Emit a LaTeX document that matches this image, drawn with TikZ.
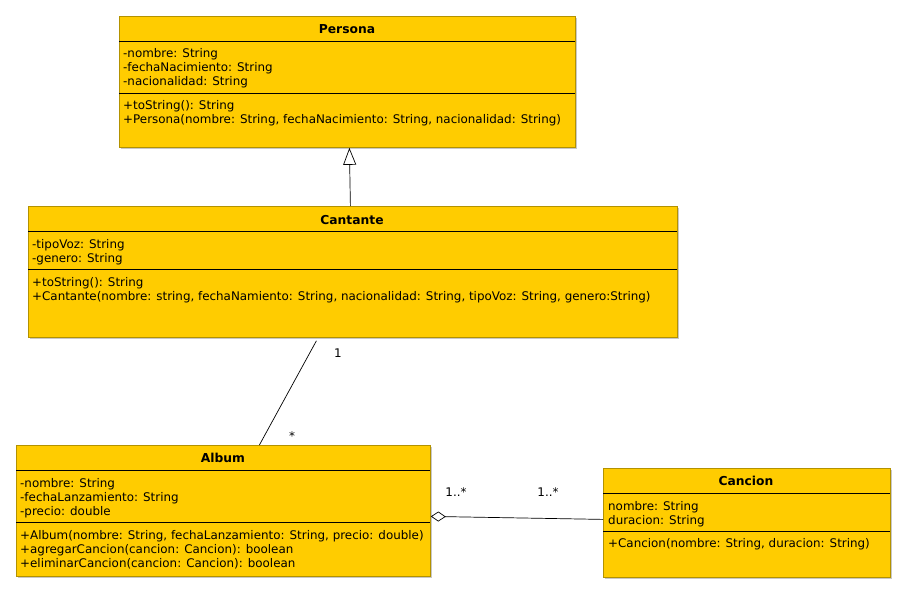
\documentclass[tikz,border=0pt]{standalone}
\usepackage{fontspec}
\setmainfont{DejaVu Sans}
\usetikzlibrary{arrows.meta}
\definecolor{umlfill}{HTML}{FFCC00}
\definecolor{umlborder}{HTML}{B39200}
\definecolor{umlshadow}{HTML}{C8C8C8}
\begin{document}
\begin{tikzpicture}[x=1pt,y=-1pt,
  classbox/.style={draw=umlborder, fill=umlfill, line width=0.8pt, anchor=north west, inner sep=0pt},
  shadowbox/.style={fill=umlshadow, anchor=north west, inner sep=0pt},
  sepline/.style={line width=0.8pt, black},
  ttl/.style={font=\fontsize{12.3}{14}\selectfont\bfseries, anchor=base, inner sep=0pt, yshift=-1pt},
  mem/.style={font=\fontsize{11.9}{14}\selectfont, anchor=base west, inner sep=0pt, yshift=-1pt},
  mult/.style={font=\fontsize{11.9}{14}\selectfont, anchor=base, inner sep=0pt},
  conn/.style={line width=0.7pt, black}
]
\useasboundingbox[fill=white] (0,0) rectangle (906,594);

% ---------- Persona ----------
\node[shadowbox, minimum width=456pt, minimum height=131pt] (sp) at (120.5,17.5) {};
\node[classbox, minimum width=456pt, minimum height=131pt] (persona) at (119,16) {};
\draw[sepline] (119,41) -- (575,41);
\draw[sepline] (119,93) -- (575,93);
\node[ttl] (pt) at (347,32.5) {Persona};
\node[mem] (p1) at (123,56.5) {-nombre: String};
\node[mem] (p2) at (123,70.5) {-fechaNacimiento: String};
\node[mem] (p3) at (123,84.5) {-nacionalidad: String};
\node[mem] (p4) at (123,108.5) {+toString(): String};
\node[mem] (p5) at (123,122.5) {+Persona(nombre: String, fechaNacimiento: String, nacionalidad: String)};

% ---------- Cantante ----------
\node[shadowbox, minimum width=649pt, minimum height=131pt] (sc) at (29.5,207.5) {};
\node[classbox, minimum width=649pt, minimum height=131pt] (cantante) at (28,206) {};
\draw[sepline] (28,231) -- (677,231);
\draw[sepline] (28,269) -- (677,269);
\node[ttl] (ct) at (352,223.5) {Cantante};
\node[mem] (c1) at (32,247.5) {-tipoVoz: String};
\node[mem] (c2) at (32,261.5) {-genero: String};
\node[mem] (c3) at (32,285.5) {+toString(): String};
\node[mem] (c4) at (32,299.5) {+Cantante(nombre: string, fechaNamiento: String, nacionalidad: String, tipoVoz: String, genero:String)};

% ---------- Album ----------
\node[shadowbox, minimum width=414pt, minimum height=131pt] (sa) at (17.5,446.5) {};
\node[classbox, minimum width=414pt, minimum height=131pt] (album) at (16,445) {};
\draw[sepline] (16,470) -- (430,470);
\draw[sepline] (16,522) -- (430,522);
\node[ttl] (at) at (223,461.5) {Album};
\node[mem] (a1) at (20,486.5) {-nombre: String};
\node[mem] (a2) at (20,500.5) {-fechaLanzamiento: String};
\node[mem] (a3) at (20,514.5) {-precio: double};
\node[mem] (a4) at (20,538.5) {+Album(nombre: String, fechaLanzamiento: String, precio: double)};
\node[mem] (a5) at (20,552.5) {+agregarCancion(cancion: Cancion): boolean};
\node[mem] (a6) at (20,566.5) {+eliminarCancion(cancion: Cancion): boolean};

% ---------- Cancion ----------
\node[shadowbox, minimum width=287pt, minimum height=109pt] (sn) at (604.5,469.5) {};
\node[classbox, minimum width=287pt, minimum height=109pt] (cancion) at (603,468) {};
\draw[sepline] (603,493) -- (890,493);
\draw[sepline] (603,531) -- (890,531);
\node[ttl] (nt) at (746,484.5) {Cancion};
\node[mem] (n1) at (608,509.5) {nombre: String};
\node[mem] (n2) at (608,523.5) {duracion: String};
\node[mem] (n3) at (608,546.5) {+Cancion(nombre: String, duracion: String)};

% ---------- Connectors ----------
% generalisation Cantante -> Persona
\draw[conn, -{Triangle[open, length=17pt, width=13pt, line width=0.7pt]}]
  ([xshift=-2.5pt]cantante.north) -- ([xshift=2pt]persona.south);

% association Cantante -- Album
\draw[conn] ([xshift=-36.5pt, yshift=-3pt]cantante.south) -- ([xshift=36pt]album.north);
\node[mult] (m1) at (338,357.5) {1};
\node[mult] (m2) at (292,440) {*};

% aggregation Album <>-- Cancion
\draw[conn, {Diamond[open, length=15pt, width=10pt, line width=0.7pt]}-]
  ([yshift=-5.5pt]album.east) -- ([yshift=3.5pt]cancion.west);
\node[mult] (m3) at (456,496.5) {1..*};
\node[mult] (m4) at (548,496.5) {1..*};
\end{tikzpicture}
\end{document}
